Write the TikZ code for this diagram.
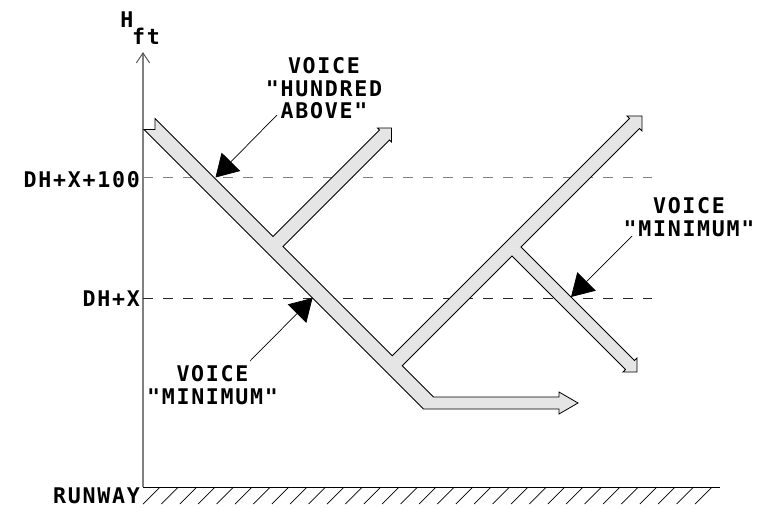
\documentclass[tikz,border=0pt]{standalone}
\usepackage{fontspec}
\newfontfamily\monob[LetterSpace=8]{DejaVu Sans Mono}
\usetikzlibrary{arrows.meta}
\newcommand\lblfont{\fontsize{21.6}{22.8}\selectfont\monob\bfseries}
\begin{document}
\begin{tikzpicture}[x=1pt,y=-1pt,
  lbl/.style={font=\lblfont, inner sep=0pt, align=center},
  band/.style={fill=black!10, draw=black, line width=0.8pt, line join=miter},
  axisline/.style={draw=black!50, line width=1.8pt},
  dashA/.style={draw=black!50, line width=1.8pt, dash pattern=on 10pt off 10pt},
  dashB/.style={draw=black!85, line width=0.9pt, dash pattern=on 10pt off 10pt},
  callout/.style={draw=black, line width=0.7pt, -{Triangle[length=22pt,width=26pt]}},
  hatchline/.style={draw=black, line width=0.7pt}]
\useasboundingbox (0,0) rectangle (770,508);

% axis
\coordinate (ax0) at (143,487);
\coordinate (ax1) at (143,53);
\draw[axisline] (ax0) -- (ax1);
\draw[draw=black!70, line width=0.9pt] ([xshift=-6.7pt,yshift=-10pt]ax1) -- (ax1) -- ([xshift=6.7pt,yshift=-10pt]ax1);

% dashed levels
\coordinate (d1a) at (143,177.5); \coordinate (d1b) at (652,177.5);
\coordinate (d2a) at (143,298);   \coordinate (d2b) at (652,298);
\draw[dashA] (d1a) -- (d1b);
\draw[dashB] (d2a) -- (d2b);

% runway
\coordinate (rw0) at (143,487); \coordinate (rw1) at (720,487);
\draw[line width=1pt] (rw0) -- (rw1);
\foreach \i in {0,...,30} \draw[hatchline] ({160+18.4*\i},487) -- ++(-17,17);

% flight path band
\draw[band] (144,129.5) -- (155,129.5) -- (155,118.5) -- (273,236.5)
  -- (379.5,130) -- (377.5,128) -- (391.5,128) -- (391.5,142) -- (389.5,140)
  -- (283,246.5) -- (392.25,355.75)
  -- (629.5,118.5) -- (627,116) -- (642,116) -- (642,131) -- (639.5,128.5)
  -- (521,247) -- (634.5,360.5) -- (637,358) -- (637,372) -- (623,372) -- (625.5,369.5)
  -- (512,256) -- (402.25,365.75) -- (433.5,397)
  -- (559,397) -- (559,392) -- (578,403) -- (559,414) -- (559,409)
  -- (423.5,409) -- cycle;

% labels
\node[lbl, anchor=base] (H) at (127,28) {H};
\node[lbl, anchor=base] (ft) at (146,45) {ft};
\node[lbl, anchor=base east] (l100) at (140,187) {DH+X+100};
\node[lbl, anchor=base east] (lx) at (140,306) {DH+X};
\node[lbl, anchor=base east] (lrw) at (140,503) {RUNWAY};

\node[lbl, anchor=north] (v1) at (324,57) {VOICE\\"HUNDRED\\ABOVE"};
\node[lbl, anchor=north] (v2) at (212.5,365) {VOICE\\"MINIMUM"};
\node[lbl, anchor=north] (v3) at (689,197) {VOICE\\"MINIMUM"};

% callouts
\coordinate (c1s) at (277,115);   \coordinate (c1t) at (215.5,177.5);
\coordinate (c2s) at (250,361);   \coordinate (c2t) at (312.5,298);
\coordinate (c3s) at (632,236);   \coordinate (c3t) at (571,297);
\draw[callout] (c1s) -- (c1t);
\draw[callout] (c2s) -- (c2t);
\draw[callout] (c3s) -- (c3t);
\end{tikzpicture}
\end{document}
